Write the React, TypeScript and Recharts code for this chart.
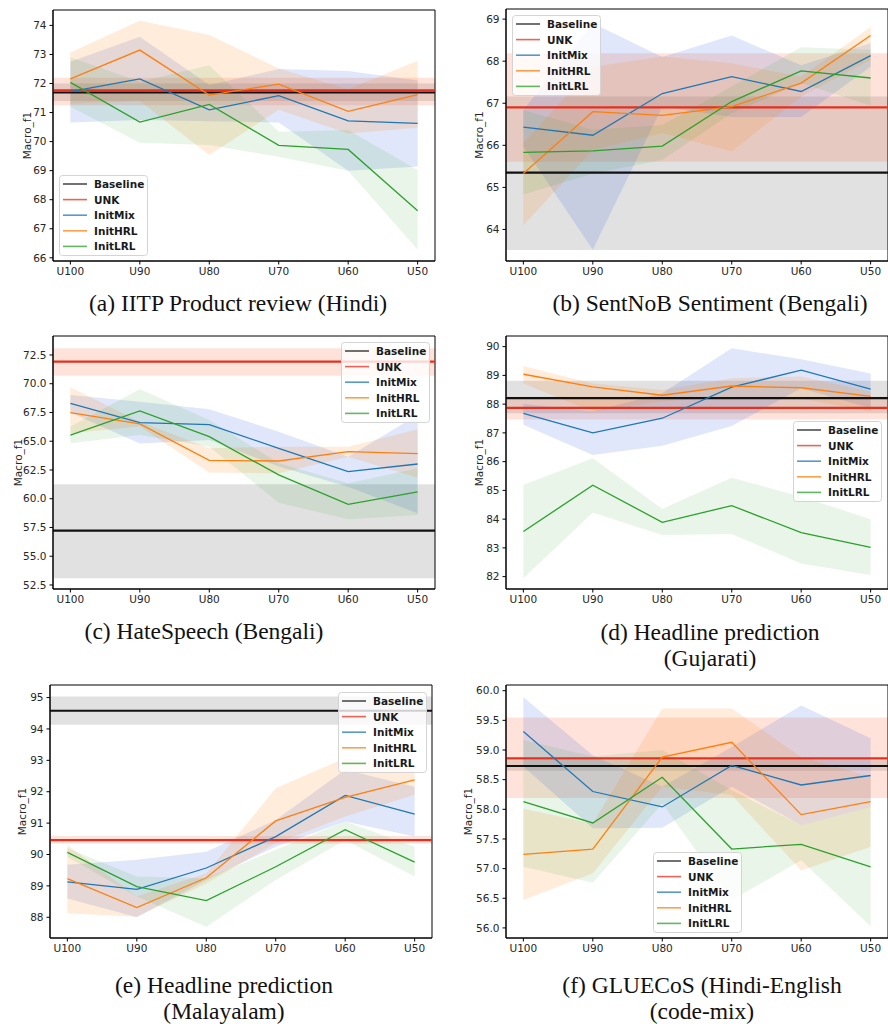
import React from "react";
import {
  Area,
  ComposedChart,
  Line,
  ReferenceArea,
  ReferenceLine,
  XAxis,
  YAxis,
} from "recharts";

const units = ["U100", "U90", "U80", "U70", "U60", "U50"];
const legendNames = ["Baseline", "UNK", "InitMix", "InitHRL", "InitLRL"];

// (a) IITP Product review
const aMix = [71.72, 72.16, 71.09, 71.58, 70.71, 70.63];
const aMixBand = [[70.66, 72.75], [70.74, 73.61], [70.7, 71.95], [70.66, 72.5], [69.0, 72.43], [69.14, 72.1]];
const aHrl = [72.16, 73.15, 71.6, 71.98, 71.04, 71.62];
const aHrlBand = [[71.3, 73.07], [71.4, 74.16], [69.54, 73.67], [71.1, 72.52], [70.28, 71.8], [70.48, 72.78]];
const aLrl = [72.04, 70.67, 71.28, 69.87, 69.73, 67.62];
const aLrlBand = [[71.2, 72.9], [69.96, 72.06], [69.88, 72.63], [69.48, 70.34], [69.0, 70.4], [66.29, 69.02]];
const aBase = [71.69, 71.4, 72.0];
const aUnk = [71.76, 71.25, 72.2];

// (b) SentNoB Sentiment
const bMix = [66.43, 66.24, 67.23, 67.63, 67.28, 68.13];
const bMixBand = [[65.97, 66.84], [63.52, 68.9], [66.92, 68.1], [66.67, 68.61], [66.67, 67.9], [67.87, 68.43]];
const bHrl = [65.33, 66.8, 66.71, 66.92, 67.48, 68.61];
const bHrlBand = [[64.1, 66.05], [65.89, 67.87], [66.29, 68.11], [65.85, 67.95], [67.16, 67.63], [68.03, 68.81]];
const bLrl = [65.83, 65.87, 65.98, 67.04, 67.77, 67.6];
const bLrlBand = [[64.83, 66.84], [65.33, 66.37], [65.65, 66.48], [66.76, 67.4], [67.48, 68.33], [66.94, 68.27]];
const bBase = [65.35, 63.51, 67.16];
const bUnk = [66.9, 65.61, 68.19];

// (c) HateSpeech
const cMix = [68.3, 66.62, 66.44, 64.38, 62.36, 63.02];
const cMixBand = [[67.49, 69.02], [64.8, 68.44], [65.1, 67.78], [62.8, 65.83], [61.05, 63.66], [58.73, 67.28]];
const cHrl = [67.49, 66.5, 63.34, 63.28, 64.09, 63.92];
const cHrlBand = [[65.69, 69.69], [66.27, 66.7], [62.27, 64.38], [62.21, 64.53], [63.66, 64.53], [61.83, 66.04]];
const cLrl = [65.54, 67.63, 65.4, 62.07, 59.51, 60.59];
const cLrlBand = [[64.82, 66.27], [65.54, 69.51], [64.53, 66.85], [59.66, 63.08], [58.21, 61.34], [58.59, 62.64]];
const cBase = [57.22, 53.08, 61.25];
const cUnk = [71.92, 70.7, 73.08];

// (d) Headline prediction, Gujarati
const dMix = [87.68, 87.0, 87.51, 88.59, 89.18, 88.52];
const dMixBand = [[87.28, 88.01], [86.23, 87.74], [86.55, 88.38], [87.24, 89.94], [88.55, 89.56], [87.86, 89.07]];
const dHrl = [89.04, 88.6, 88.31, 88.63, 88.57, 88.27];
const dHrlBand = [[88.72, 89.33], [87.74, 88.72], [88.09, 88.49], [88.26, 88.9], [88.2, 88.96], [87.74, 88.43]];
const dLrl = [83.57, 85.18, 83.89, 84.47, 83.53, 83.02];
const dLrlBand = [[81.94, 85.19], [84.23, 86.12], [83.45, 84.35], [83.48, 85.44], [82.46, 84.78], [82.06, 84.0]];
const dBase = [88.21, 87.68, 88.81];
const dUnk = [87.87, 87.47, 88.26];

// (e) Headline prediction, Malayalam
const eMix = [89.13, 88.89, 89.57, 90.57, 91.88, 91.29];
const eMixBand = [[88.6, 89.67], [88.0, 89.83], [89.19, 90.09], [90.25, 91.1], [91.05, 92.7], [90.57, 92.16]];
const eHrl = [89.23, 88.31, 89.26, 91.07, 91.82, 92.38];
const eHrlBand = [[88.13, 90.3], [88.02, 88.66], [89.08, 89.4], [90.36, 92.11], [91.21, 93.07], [91.9, 92.75]];
const eLrl = [90.07, 88.98, 88.53, 89.61, 90.79, 89.76];
const eLrlBand = [[89.93, 90.2], [88.66, 89.3], [87.7, 89.24], [89.19, 90.15], [90.46, 91.05], [89.3, 90.25]];
const eBase = [94.58, 94.13, 95.03];
const eUnk = [90.46, 90.34, 90.59];

// (f) GLUECoS
const fMix = [59.31, 58.3, 58.04, 58.74, 58.41, 58.57];
const fMixBand = [[58.72, 59.89], [57.68, 58.91], [57.69, 58.38], [58.38, 59.05], [57.73, 59.75], [58.04, 59.2]];
const fHrl = [57.24, 57.33, 58.88, 59.13, 57.91, 58.13];
const fHrlBand = [[56.47, 58.01], [56.92, 57.76], [58.38, 59.7], [58.24, 59.7], [56.97, 58.88], [57.37, 58.55]];
const fLrl = [58.13, 57.77, 58.54, 57.33, 57.41, 57.03];
const fLrlBand = [[57.03, 59.17], [56.76, 58.89], [58.1, 59.0], [56.47, 58.32], [57.14, 57.73], [56.03, 58.04]];
const fBase = [58.73, 58.65, 58.83];
const fUnk = [58.86, 58.19, 59.55];

const C_MIX = "#1f77b4";
const C_HRL = "#ff7f0e";
const C_LRL = "#2ca02c";
const C_UNK = "#e3301f";
const C_BASE = "#111111";
const TICK_FONT = { fontSize: 10.5, fill: "#262626", fontFamily: "DejaVu Sans" };

function rows(mix, mixBand, hrl, hrlBand, lrl, lrlBand) {
  return units.map((u, i) => ({
    x: i,
    unit: u,
    mix: mix[i],
    mixBand: mixBand[i],
    hrl: hrl[i],
    hrlBand: hrlBand[i],
    lrl: lrl[i],
    lrlBand: lrlBand[i],
  }));
}

const range = (a: number, b: number, s: number) => {
  const out: number[] = [];
  for (let v = a; v <= b + 1e-9; v += s) out.push(Math.round(v * 10) / 10);
  return out;
};

const panels = [
  {
    key: "a", left: 0, top: 0, height: 290, mTop: 10, mRight: 9, plotBottom: 261, yWidth: 53, labelDx: 0,
    domain: [65.89, 74.53], ticks: range(66, 74, 1), digits: 0,
    data: rows(aMix, aMixBand, aHrl, aHrlBand, aLrl, aLrlBand), base: aBase, unk: aUnk,
    legend: [59, 175], caption: ["(a) IITP Product review (Hindi)"], capX: 238, capY: 303,
  },
  {
    key: "b", left: 444, top: 0, height: 290, mTop: 9, mRight: 0, plotBottom: 261, yWidth: 62, labelDx: 4,
    domain: [63.25, 69.24], ticks: range(64, 69, 1), digits: 0,
    data: rows(bMix, bMixBand, bHrl, bHrlBand, bLrl, bLrlBand), base: bBase, unk: bUnk,
    legend: [512, 15], caption: ["(b) SentNoB Sentiment (Bengali)"], capX: 710, capY: 303,
  },
  {
    key: "c", left: 0, top: 330, height: 290, mTop: 6, mRight: 9, plotBottom: 589, yWidth: 53, labelDx: -9,
    domain: [52.15, 74.15], ticks: range(52.5, 72.5, 2.5), digits: 1,
    data: rows(cMix, cMixBand, cHrl, cHrlBand, cLrl, cLrlBand), base: cBase, unk: cUnk,
    legend: [341, 342], caption: ["(c) HateSpeech (Bengali)"], capX: 204, capY: 631,
  },
  {
    key: "d", left: 444, top: 330, height: 290, mTop: 6, mRight: 0, plotBottom: 589, yWidth: 62, labelDx: 4,
    domain: [81.57, 90.37], ticks: range(82, 90, 1), digits: 0,
    data: rows(dMix, dMixBand, dHrl, dHrlBand, dLrl, dLrlBand), base: dBase, unk: dUnk,
    legend: [793, 421], caption: ["(d) Headline prediction", "(Gujarati)"], capX: 710, capY: 632,
  },
  {
    key: "e", left: 0, top: 670, height: 300, mTop: 15, mRight: 12, plotBottom: 938, yWidth: 50, labelDx: -3,
    domain: [87.34, 95.4], ticks: range(88, 95, 1), digits: 0,
    data: rows(eMix, eMixBand, eHrl, eHrlBand, eLrl, eLrlBand), base: eBase, unk: eUnk,
    legend: [338, 692], caption: ["(e) Headline prediction", "(Malayalam)"], capX: 224, capY: 985,
  },
  {
    key: "f", left: 444, top: 670, height: 300, mTop: 15, mRight: 0, plotBottom: 938, yWidth: 62, labelDx: -7,
    domain: [55.83, 60.096], ticks: range(56, 60, 0.5), digits: 1,
    data: rows(fMix, fMixBand, fHrl, fHrlBand, fLrl, fLrlBand), base: fBase, unk: fUnk,
    legend: [653, 852], caption: ["(f) GLUECoS (Hindi-English", "(code-mix)"], capX: 702, capY: 985,
  },
];

function YLabel({ viewBox, dx }: any) {
  if (!viewBox) return null;
  const x = viewBox.x + viewBox.width / 2 + dx;
  const y = viewBox.y + viewBox.height / 2;
  return (
    <text
      x={x}
      y={y}
      transform={`rotate(-90 ${x} ${y})`}
      textAnchor="middle"
      dominantBaseline="central"
      fontSize={10.5}
      fill="#262626"
      fontFamily="DejaVu Sans"
    >
      Macro_f1
    </text>
  );
}

function LegendBox({ left, top }: { left: number; top: number }) {
  const colors = [C_BASE, C_UNK, C_MIX, C_HRL, C_LRL];
  return (
    <svg
      width={90}
      height={82}
      style={{ position: "absolute", left, top, overflow: "visible" }}
    >
      <rect x={0.5} y={0.5} width={88} height={80} rx={3} fill="#fff" fillOpacity={0.8} stroke="#d4d4d4" />
      {legendNames.map((name, i) => (
        <g key={name}>
          <line x1={4} x2={28} y1={9 + i * 15.6} y2={9 + i * 15.6} stroke={colors[i]} strokeWidth={1.6} strokeOpacity={0.75} />
          <text
            x={35}
            y={9 + i * 15.6}
            dominantBaseline="central"
            fontSize={10.5}
            fontWeight="bold"
            fontFamily="DejaVu Sans"
            fill="#1a1a1a"
          >
            {name}
          </text>
        </g>
      ))}
    </svg>
  );
}

function Panel({ p }: any) {
  const xAxisH = 25;
  const bottom = p.height - (p.plotBottom - p.top) - xAxisH;
  return (
    <div style={{ position: "absolute", left: p.left, top: p.top, width: 444, height: p.height }}>
      <ComposedChart
        width={444}
        height={p.height}
        data={p.data}
        margin={{ top: p.mTop, right: p.mRight, bottom, left: 0 }}
      >
        <XAxis
          dataKey="x"
          type="number"
          domain={[-0.25, 5.25]}
          ticks={[0, 1, 2, 3, 4, 5]}
          tickFormatter={(v: number) => units[v]}
          allowDataOverflow
          height={xAxisH}
          tick={TICK_FONT}
          tickSize={3.5}
          tickMargin={3}
          stroke="#000"
          interval={0}
        />
        <YAxis
          type="number"
          domain={p.domain}
          ticks={p.ticks}
          allowDataOverflow
          width={p.yWidth}
          tick={TICK_FONT}
          tickSize={3.5}
          tickMargin={3}
          stroke="#000"
          interval={0}
          tickFormatter={(v: number) => v.toFixed(p.digits)}
          label={<YLabel dx={p.labelDx} />}
        />
        <ReferenceArea y1={p.base[1]} y2={p.base[2]} fill="#808080" fillOpacity={0.24} stroke="none" ifOverflow="visible" />
        <ReferenceArea y1={p.unk[1]} y2={p.unk[2]} fill="#ff5a28" fillOpacity={0.17} stroke="none" ifOverflow="visible" />
        <Area dataKey="mixBand" fill="#4169e1" fillOpacity={0.16} stroke="none" isAnimationActive={false} activeDot={false} />
        <Area dataKey="hrlBand" fill={C_HRL} fillOpacity={0.15} stroke="none" isAnimationActive={false} activeDot={false} />
        <Area dataKey="lrlBand" fill={C_LRL} fillOpacity={0.11} stroke="none" isAnimationActive={false} activeDot={false} />
        <ReferenceLine y={p.base[0]} stroke={C_BASE} strokeWidth={2.2} />
        <ReferenceLine y={p.unk[0]} stroke={C_UNK} strokeWidth={2.2} />
        <Line dataKey="mix" stroke={C_MIX} strokeWidth={1.3} dot={false} activeDot={false} isAnimationActive={false} />
        <Line dataKey="hrl" stroke={C_HRL} strokeWidth={1.3} dot={false} activeDot={false} isAnimationActive={false} />
        <Line dataKey="lrl" stroke={C_LRL} strokeWidth={1.3} dot={false} activeDot={false} isAnimationActive={false} />
        <ReferenceArea
          x1={-0.25}
          x2={5.25}
          y1={p.domain[0]}
          y2={p.domain[1]}
          fill="none"
          stroke="#000"
          strokeWidth={1}
          ifOverflow="visible"
        />
      </ComposedChart>
    </div>
  );
}

export default function App() {
  return (
    <div
      style={{
        position: "absolute",
        left: 0,
        top: 0,
        width: 888,
        height: 1024,
        background: "#fff",
        overflow: "hidden",
      }}
    >
      {panels.map((p) => (
        <Panel key={p.key} p={p} />
      ))}
      {panels.map((p) => (
        <LegendBox key={"lg" + p.key} left={p.legend[0]} top={p.legend[1]} />
      ))}
      {panels.map((p) => (
        <div
          key={"cap" + p.key}
          style={{
            position: "absolute",
            left: p.capX - 200,
            top: p.capY - 13,
            width: 400,
            textAlign: "center",
            fontFamily: "'Liberation Serif', serif",
            fontSize: 23.5,
            lineHeight: "26px",
            color: "#111",
          }}
        >
          {p.caption.map((line: string) => (
            <div key={line}>{line}</div>
          ))}
        </div>
      ))}
    </div>
  );
}
